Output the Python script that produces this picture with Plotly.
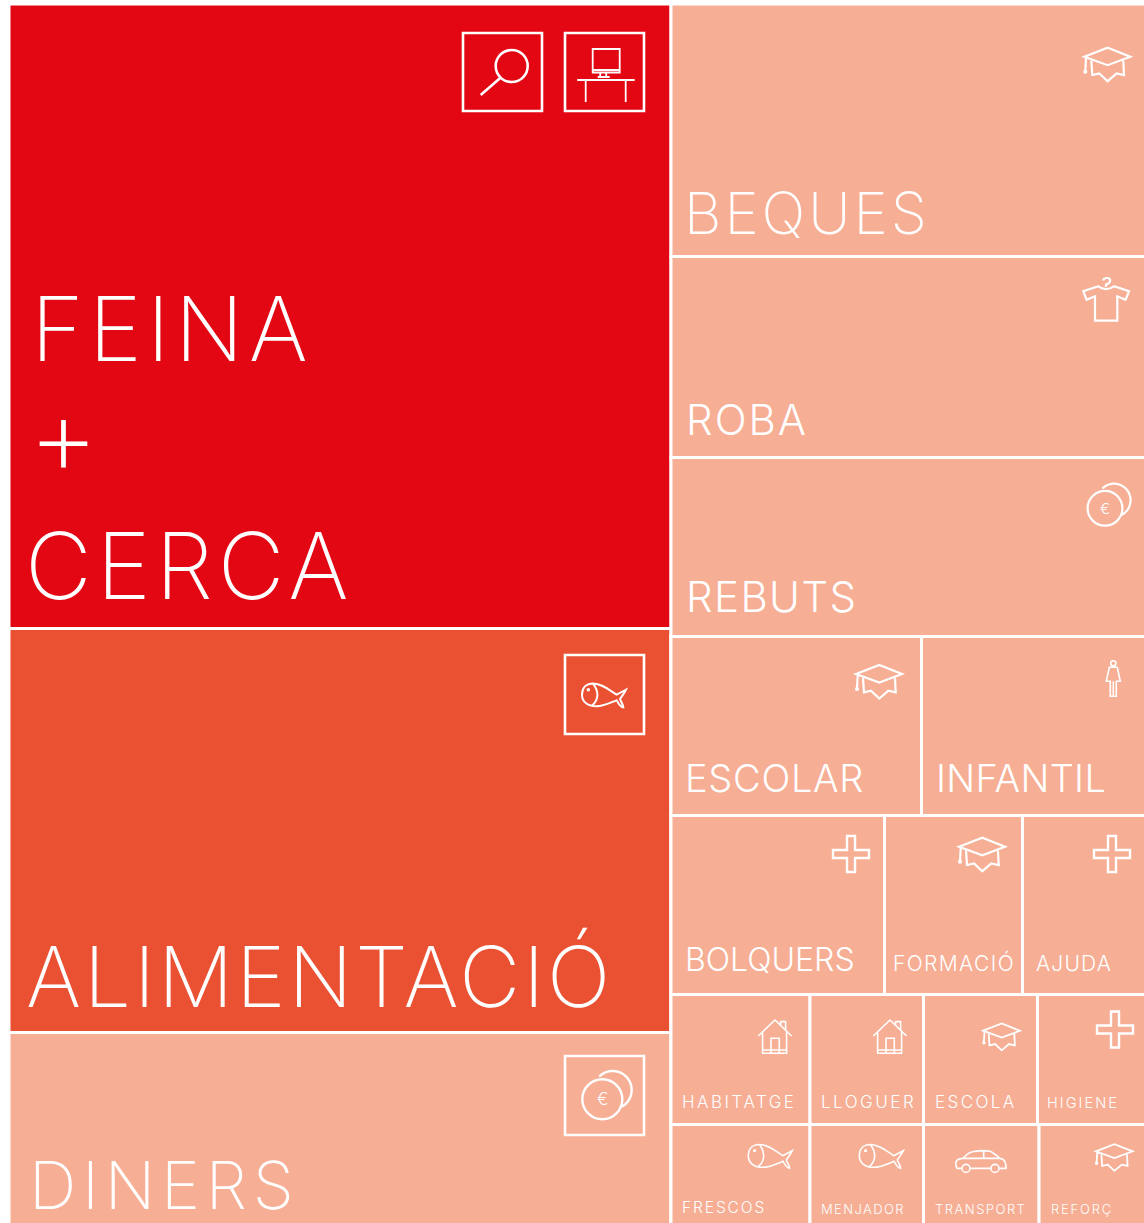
import json
import math
import re
import plotly.graph_objects as go

# figure runs a little past the window so the tiles' outer white edge falls outside, as in the reference
W, H = 1147, 1232

# Tiles: values are the tile areas (px2 / 100), parents carry no value of their own
ids = ['root', 'left', 'right',
       'feina', 'alimentacio', 'diners',
       'beques', 'roba', 'rebuts', 'row6', 'row7', 'row8', 'row9',
       'escolar', 'infantil',
       'bolquers', 'formacio', 'ajuda',
       'habitatge', 'lloguer', 'escola', 'higiene',
       'frescos', 'menjador', 'transport', 'reforc']
labels = ['', '', '',
          'FEINA + CERCA', 'ALIMENTACIÓ', 'DINERS',
          'BEQUES', 'ROBA', 'REBUTS', '', '', '', '',
          'ESCOLAR', 'INFANTIL',
          'BOLQUERS', 'FORMACIÓ', 'AJUDA',
          'HABITATGE', 'LLOGUER', 'ESCOLA', 'HIGIENE',
          'FRESCOS', 'MENJADOR', 'TRANSPORT', 'REFORÇ']
parents = ['', 'root', 'root',
           'left', 'left', 'left',
           'right', 'right', 'right', 'right', 'right', 'right', 'right',
           'row6', 'row6',
           'row7', 'row7', 'row7',
           'row8', 'row8', 'row8', 'row8',
           'row9', 'row9', 'row9', 'row9']
values = [0, 0, 0,
          4134.2, 2674.5, 1274.3,
          1200.6, 955.8, 851.1, 0, 0, 0, 0,
          448.4, 402.8,
          382.2, 247.0, 222.0,
          180.7, 147.6, 148.2, 141.7,
          139.7, 114.1, 116.1, 108.0]

RED = '#E30613'
ORANGE = '#EA5133'
SALMON = '#F6AE95'
colors = [SALMON] * len(ids)
colors[ids.index('feina')] = RED
colors[ids.index('alimentacio')] = ORANGE

# text, left x, baseline y, font size, letter spacing
texts = [
    ('FEINA', 30, 360, 90, 5), ('+', 27, 473, 110, 0), ('CERCA', 24, 597, 92, 4.8),
    ('ALIMENTACIÓ', 25, 1005, 84, 2.7), ('DINERS', 28, 1208, 66, 5.8),
    ('BEQUES', 683, 233, 58, 3), ('ROBA', 685, 435, 42, 2), ('REBUTS', 685, 612, 42, 1.4),
    ('ESCOLAR', 684, 792, 38, 0.7), ('INFANTIL', 935, 792, 38, 0.3),
    ('BOLQUERS', 684, 971, 32, 0), ('FORMACIÓ', 892, 971, 21, 1.4), ('AJUDA', 1035, 971, 21, 1.2),
    ('HABITATGE', 681, 1108.5, 17, 2.5), ('LLOGUER', 820, 1108.5, 17, 2.5), ('ESCOLA', 934, 1108.5, 17, 2.4),
    ('HIGIENE', 1046, 1108.5, 14.5, 2.1),
    ('FRESCOS', 681, 1214, 15.5, 1.9), ('MENJADOR', 820, 1214, 13, 1.4), ('TRANSPORT', 934, 1214, 13, 1.5),
    ('REFORÇ', 1050, 1214, 13, 1.8),
]


# Pixel helpers for the decorations
def px(x):
    return x / W


def py(y):
    return 1 - y / H


def circle(cx, cy, r):
    k = 0.5523 * r
    return (f'M {cx - r} {cy} C {cx - r} {cy - k} {cx - k} {cy - r} {cx} {cy - r} '
            f'C {cx + k} {cy - r} {cx + r} {cy - k} {cx + r} {cy} '
            f'C {cx + r} {cy + k} {cx + k} {cy + r} {cx} {cy + r} '
            f'C {cx - k} {cy + r} {cx - r} {cy + k} {cx - r} {cy} Z ')


def arc(cx, cy, r, a0, a1, n=24):
    pts = []
    for i in range(n + 1):
        a = math.radians(a0 + (a1 - a0) * i / n)
        pts.append(f'{cx + r * math.cos(a):.2f} {cy + r * math.sin(a):.2f}')
    return 'M ' + ' L '.join(pts) + ' '


FISH = ('M 0 12 C 0 4 5 0.5 11 0.5 C 20 0.5 27 7 34.7 11.7 L 44 6.7 C 42.5 10 40 13 38 16 '
        'C 39 19 41 21 41.3 24.3 C 38 24 36.5 20 34.7 17.3 C 28 20 21 23.3 14.7 23.3 C 6 23.3 0 19 0 12 Z '
        'M 11 0.5 C 17 8 17 17 10 22.5 ') + circle(6.3, 6.7, 0.8)
CAP = ('M 1 10 L 24.3 1 L 47 10 L 24.3 18.5 Z '
       'M 8 14 L 9 28.3 L 16 26.7 L 24.3 34.5 L 33.3 26.7 L 40.7 28.3 L 40 14 '
       'M 2.7 11.7 L 2 24 ') + circle(2, 25, 1)
PLUS = ('M -4 -18 L 4 -18 L 4 -4 L 18 -4 L 18 4 L 4 4 L 4 18 L -4 18 L -4 4 L -18 4 L -18 -4 L -4 -4 Z')
HOUSE = ('M 0 16.7 L 16.7 0.7 L 33.3 16.7 '
         'M 22.3 6.5 L 22.3 2.3 L 27.3 2.3 L 27.3 11.5 '
         'M 4.3 12.5 L 4.3 34 L 28.3 34 L 28.3 12.5 M 4.3 30.7 L 28.3 30.7 '
         'M 12.7 34 L 12.7 19 L 21 19 L 21 34 ')
CAR = ('M 1 17.7 L 0 12.7 C 0 9 3 8 7 7.7 C 10 5 13 1.5 17 1 C 24 -0.3 30 -0.3 34.3 0.5 '
       'C 38 2 41 5 44.3 7.7 C 48 8.5 50.3 10 50.3 17.7 L 43.5 17.7 M 35 17.7 L 14.5 17.7 M 6 17.7 L 1 17.7 '
       'M 7 7.7 L 44.3 7.7 M 28 0 L 28 7.7 ') + circle(10.3, 17.7, 4) + circle(39.3, 17.7, 4)
SHIRT = ('M 15 8.3 L 0 13.3 L 3.3 21.7 L 11.7 18.3 L 11.7 42.7 L 34 42.7 L 34 18.3 L 42.3 21.7 L 45.7 13.3 L 30.7 8.3 '
         'C 25 12 20 12 15 8.3 Z M 22.7 9 L 22.7 6.5 C 28 5 28 0 24 0 C 21.5 0 20 1 20 2.5 ')
COIN = circle(0, 0, 20) + arc(10.4, -9.3, 19, -135, 62)
DESK = ('M 0 -31 L 27 -31 L 27 -7.5 L 0 -7.5 Z M 0 -10 L 27 -10 M 7.5 -7.5 L 7.5 -3 M 13.5 -7.5 L 13.5 -3 M 5 -3 L 17 -3 '
        'M -15.5 0 L 42 0 M -7 0 L -7 22 M 33 0 L 33 22 ')
LENS = circle(0, 0, 16) + 'M -11.5 12 L -31 29 '
CHILD = circle(0, 0, 2.6) + ('M -4 4 L 4 4 L 7 18 L 3 18 L 3 33 L -3 33 L -3 18 L -7 18 Z M 0 18 L 0 33 ')


def icon(path, ox, oy, scale=1.0, width=2.2):
    # local path (px) -> paper coordinates
    nums = iter(re.findall(r'-?\d+\.?\d*|[A-Z]', path))
    out = []
    for tok in nums:
        if tok.isalpha():
            out.append(tok)
        else:
            x = ox + float(tok) * scale
            y = oy + float(next(nums)) * scale
            out.append(f'{px(x):.5f},{py(y):.5f}')
    return dict(type='path', xref='paper', yref='paper', path=' '.join(out),
                line=dict(color='white', width=width), fillcolor='rgba(0,0,0,0)')


def frame(x0, y0, x1, y1):
    return dict(type='rect', xref='paper', yref='paper', x0=px(x0), x1=px(x1), y0=py(y0), y1=py(y1),
                line=dict(color='white', width=2.6), fillcolor='rgba(0,0,0,0)')


shapes = [
    frame(463, 33, 542, 111), frame(565, 33, 644, 111),
    frame(565, 655, 644, 734), frame(565, 1056, 644, 1135),
    icon(LENS, 511.7, 66, width=2.6), icon(DESK, 592.7, 80, width=1.8),
    icon(FISH, 582, 683, width=2), icon(COIN, 602.3, 1099.3, width=2.4),
    icon(CAP, 1083.3, 46.7), icon(SHIRT, 1083.3, 278), icon(COIN, 1105, 508.3, 0.87),
    icon(CAP, 855, 664), icon(CHILD, 1113.3, 663.3, width=1.6),
    icon(PLUS, 851, 854, width=2.4), icon(CAP, 958, 836.7), icon(PLUS, 1112, 854, width=2.4),
    icon(HOUSE, 758.3, 1019.3, width=1.6), icon(HOUSE, 873.3, 1019.3, width=1.6),
    icon(CAP, 982.3, 1022.7, 0.8, 1.8), icon(PLUS, 1115, 1029.5, width=2.4),
    icon(FISH, 748.3, 1144, width=1.6), icon(FISH, 859.3, 1144, width=1.6),
    icon(CAR, 955.7, 1150.7, width=1.6), icon(CAP, 1095, 1143.3, 0.8, 1.8),
]

FONT = 'Inter'
annotations = []
for text, x, base, size, spacing in texts:
    annotations.append(dict(text=text, x=px(x), y=py(base + size * 0.27), xref='paper', yref='paper',
                            xanchor='left', yanchor='bottom', align='left', showarrow=False, borderpad=0,
                            font=dict(family=FONT, size=size, color='white', weight=200 if size >= 58 else 300)))
for cx, cy, size in [(602.3, 1099.3, 17), (1105, 508.3, 15)]:
    annotations.append(dict(text='€', x=px(cx), y=py(cy), xref='paper', yref='paper', showarrow=False,
                            xanchor='center', yanchor='middle', borderpad=0,
                            font=dict(family=FONT, size=size, color='white', weight=300)))

fig = go.Figure(go.Treemap(
    ids=ids, labels=labels, parents=parents, values=values,
    branchvalues='remainder', sort=False, textinfo='none',
    tiling=dict(packing='slice-dice', pad=0),
    pathbar=dict(visible=False),
    marker=dict(colors=colors, depthfade=False, pad=dict(t=0, l=0, r=0, b=0),
                line=dict(color='white', width=3)),
    domain=dict(x=[9 / W, 1146.5 / W], y=[1 - 1225 / H, 1 - 4 / H]),
))
fig.update_layout(width=W, height=H, margin=dict(l=0, r=0, t=0, b=0), paper_bgcolor='white',
                  shapes=shapes, annotations=annotations, showlegend=False)

# plotly has no letter spacing for annotations, so it is set on the drawn text
spacings = json.dumps([t[4] for t in texts])
post = ("document.documentElement.style.overflow='hidden';document.body.style.margin='0';"
        "document.body.style.overflow='hidden';"
        f"var sp={spacings};"
        "document.querySelectorAll('.annotation-text').forEach(function(el,i){"
        "if(i<sp.length){el.style.letterSpacing=sp[i]+'px';}});")
fig.write_html('out.html', config={'displayModeBar': False}, post_script=post)
